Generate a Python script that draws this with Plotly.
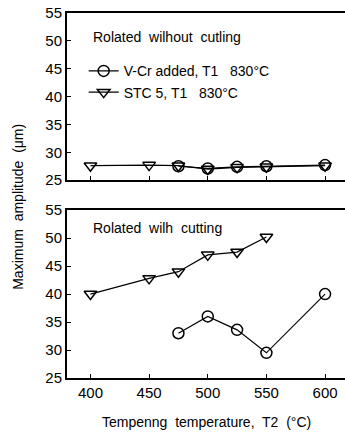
import plotly.graph_objects as go

# Temperatures T2 (°C)
t_vcr = [475, 500, 525, 550, 600]
t_stc = [400, 450, 475, 500, 525, 550, 600]
t_stc_cut = [400, 450, 475, 500, 525, 550]

# Rotated without cutting
amp_vcr_nocut = [27.5, 27.1, 27.4, 27.5, 27.7]
amp_stc_nocut = [27.6, 27.7, 27.6, 27.0, 27.3, 27.4, 27.6]

# Rotated with cutting
amp_vcr_cut = [33.0, 36.0, 33.6, 29.5, 40.0]
amp_stc_cut = [40.0, 42.8, 44.0, 47.0, 47.5, 50.2]

x_ticks = [400, 450, 500, 550, 600]
y_ticks = [25, 30, 35, 40, 45, 50, 55]

name_vcr = "V-Cr added, T1   830°C"
name_stc = "STC 5, T1   830°C"

FONT = "Arial, Liberation Sans, sans-serif"
line_style = dict(color="black", width=1.2)
circ = dict(symbol="circle-open", size=11, color="black", line=dict(width=1.5, color="black"))
tri = dict(symbol="triangle-down-open", size=11, color="black", line=dict(width=1.5, color="black"))

fig = go.Figure()
fig.add_trace(go.Scatter(x=t_vcr, y=amp_vcr_nocut, mode="lines+markers", name=name_vcr,
                         line=line_style, marker=circ, xaxis="x2", yaxis="y2"))
fig.add_trace(go.Scatter(x=t_stc, y=amp_stc_nocut, mode="lines+markers", name=name_stc,
                         line=line_style, marker=tri, xaxis="x2", yaxis="y2"))
fig.add_trace(go.Scatter(x=t_vcr, y=amp_vcr_cut, mode="lines+markers", showlegend=False,
                         line=line_style, marker=circ, xaxis="x", yaxis="y"))
fig.add_trace(go.Scatter(x=t_stc_cut, y=amp_stc_cut, mode="lines+markers", showlegend=False,
                         line=line_style, marker=tri, xaxis="x", yaxis="y"))

xcommon = dict(range=[380, 617], tickvals=x_ticks, ticks="inside", ticklen=4, tickwidth=1.2,
               tickcolor="black", showline=True, linecolor="black", linewidth=2, mirror=True,
               showgrid=False, zeroline=False, tickfont=dict(size=15, color="black", family=FONT))
ycommon = dict(range=[25, 55], tickvals=y_ticks, ticks="inside", ticklen=4, tickwidth=1.2,
               tickcolor="black", showline=True, linecolor="black", linewidth=2, mirror=False,
               showgrid=False, zeroline=False, tickfont=dict(size=15, color="black", family=FONT))

fig.update_layout(
    width=345, height=435,
    margin=dict(l=67, r=0, t=13, b=57),
    paper_bgcolor="white", plot_bgcolor="white",
    font=dict(family=FONT, color="black", size=14),
    xaxis=dict(**xcommon, domain=[0, 1], anchor="y"),
    yaxis=dict(**ycommon, domain=[0, 0.46], anchor="x"),
    xaxis2=dict(**xcommon, domain=[0, 1], anchor="y2", showticklabels=False),
    yaxis2=dict(**ycommon, domain=[0.542, 1], anchor="x2"),
    legend=dict(x=0.06, y=0.884, xanchor="left", yanchor="top", bgcolor="rgba(0,0,0,0)",
                font=dict(size=14, family=FONT), itemwidth=30, tracegroupgap=0),
    annotations=[
        dict(text="Rolated  wilhout  cutling", xref="paper", yref="paper", x=0.085, y=0.935,
             xanchor="left", yanchor="middle", showarrow=False, font=dict(size=14)),
        dict(text="Rolated  wilh  cutting", xref="paper", yref="paper", x=0.085, y=0.41,
             xanchor="left", yanchor="middle", showarrow=False, font=dict(size=14)),
        dict(text="Maximum  amplitude  (μm)", xref="paper", yref="paper", x=-0.175, y=0.47,
             xanchor="center", yanchor="middle", textangle=-90, showarrow=False, font=dict(size=14)),
        dict(text="Tempenng  temperature,  T2  (°C)", xref="paper", yref="paper", x=0.5, y=-0.12,
             xanchor="center", yanchor="middle", showarrow=False, font=dict(size=14)),
    ],
)

fig.write_html("out.html")
